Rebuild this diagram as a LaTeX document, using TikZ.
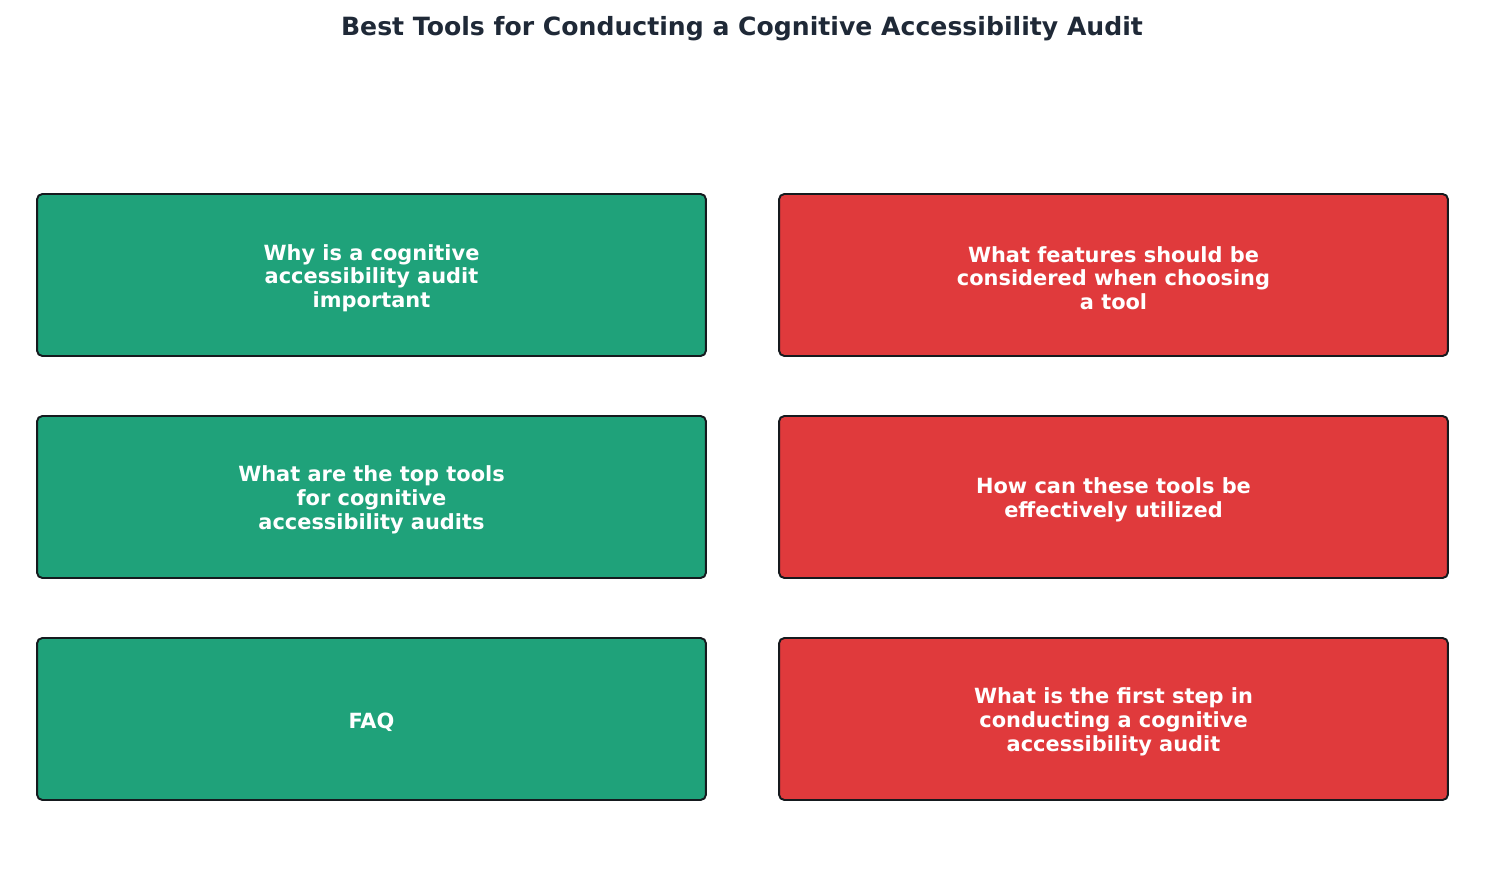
\documentclass[tikz,border=0pt]{standalone}
\usepackage{fontspec}
\setmainfont{DejaVu Sans}
\usetikzlibrary{positioning}

\definecolor{auditgreen}{HTML}{1FA27A}
\definecolor{auditred}{HTML}{E03A3C}
\definecolor{titleink}{HTML}{1F2937}
\definecolor{edgeink}{HTML}{151A1E}

\tikzset{
  topic/.style={draw=edgeink, line width=1.1pt, rounded corners=3pt,
    minimum width=13.38cm, minimum height=3.24cm},
  goodbox/.style={topic, fill=auditgreen},
  badbox/.style={topic, fill=auditred},
  topictext/.style={align=center, text=white, yshift=-1.7pt,
    font=\fontsize{11.9}{13.5}\selectfont\bfseries}
}

\begin{document}
\begin{tikzpicture}[x=0.02cm,y=-0.02cm]
\useasboundingbox (0,0) rectangle (1485,882);
\node[text=titleink, font=\fontsize{14.3}{17}\selectfont\bfseries] (title) at (742,29) {Best Tools for Conducting a Cognitive Accessibility Audit};
% left column
\node[goodbox] (why) at (371.5,275) {};
\node[goodbox] (top) at (371.5,497) {};
\node[goodbox] (faq) at (371.5,719) {};
\node[topictext] (why-t) at (why) {Why is a cognitive\\accessibility audit\\important};
\node[topictext] (top-t) at (top) {What are the top tools\\for cognitive\\accessibility audits};
\node[topictext] (faq-t) at (faq) {FAQ};
% right column
\node[badbox] (features) at (1113.5,275) {};
\node[badbox] (use) at (1113.5,497) {};
\node[badbox] (first) at (1113.5,719) {};
\node[topictext] (features-t) at (features) {What features should be\\considered when choosing\\a tool};
\node[topictext] (use-t) at (use) {How can these tools be\\effectively utilized};
\node[topictext] (first-t) at (first) {What is the first step in\\conducting a cognitive\\accessibility audit};
\end{tikzpicture}
\end{document}
